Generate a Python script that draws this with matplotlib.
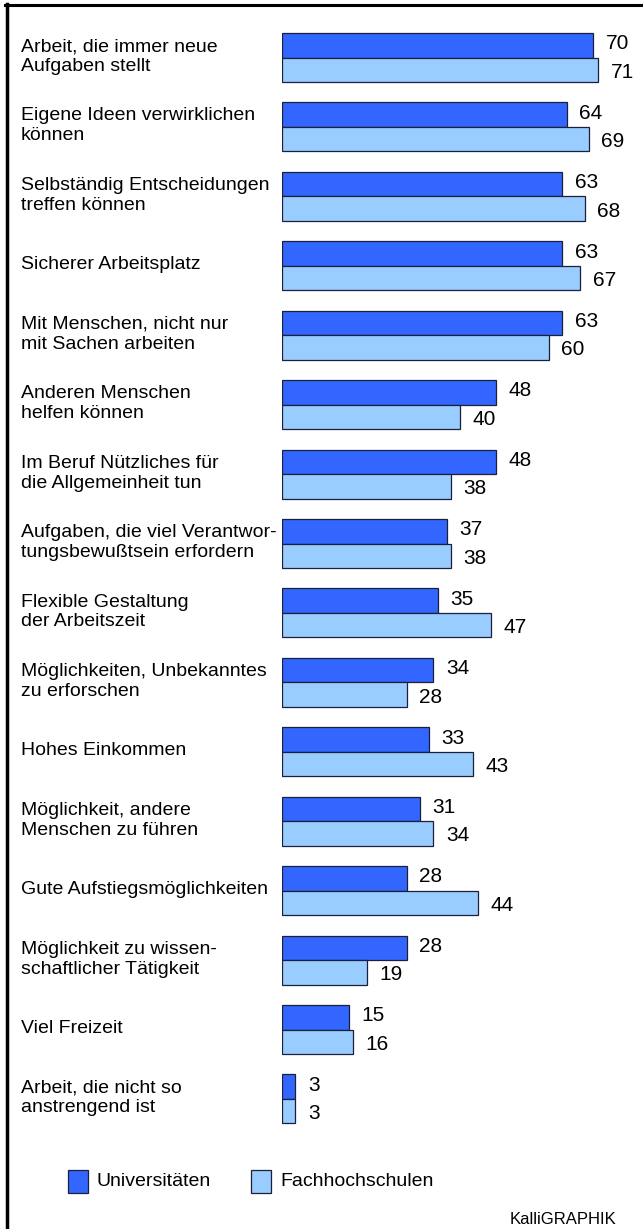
import matplotlib
matplotlib.use("Agg")
import matplotlib.pyplot as plt
from matplotlib.patches import Rectangle
from matplotlib.lines import Line2D
import matplotlib.transforms as mtransforms

plt.rcParams['font.family'] = ['Liberation Sans', 'DejaVu Sans']

categories = [
    "Arbeit, die immer neue\nAufgaben stellt",
    "Eigene Ideen verwirklichen\nkönnen",
    "Selbständig Entscheidungen\ntreffen können",
    "Sicherer Arbeitsplatz",
    "Mit Menschen, nicht nur\nmit Sachen arbeiten",
    "Anderen Menschen\nhelfen können",
    "Im Beruf Nützliches für\ndie Allgemeinheit tun",
    "Aufgaben, die viel Verantwor-\ntungsbewußtsein erfordern",
    "Flexible Gestaltung\nder Arbeitszeit",
    "Möglichkeiten, Unbekanntes\nzu erforschen",
    "Hohes Einkommen",
    "Möglichkeit, andere\nMenschen zu führen",
    "Gute Aufstiegsmöglichkeiten",
    "Möglichkeit zu wissen-\nschaftlicher Tätigkeit",
    "Viel Freizeit",
    "Arbeit, die nicht so\nanstrengend ist",
]
universitaeten = [70, 64, 63, 63, 63, 48, 48, 37, 35, 34, 33, 31, 28, 28, 15, 3]
fachhochschulen = [71, 69, 68, 67, 60, 40, 38, 38, 47, 28, 43, 34, 44, 19, 16, 3]
series_names = ["Universitäten", "Fachhochschulen"]
credit = "KalliGRAPHIK"

col_uni = "#3366FF"
col_fh = "#99CCFF"
edge = "#1a1f3a"

W, H = 643, 1229
fig = plt.figure(figsize=(W / 100, H / 100), dpi=100)

# axes in pixel geometry
ax_left, ax_right = 282, 643
ax_top, ax_bot = 20, 1140
ax = fig.add_axes([ax_left / W, 1 - ax_bot / H, (ax_right - ax_left) / W, (ax_bot - ax_top) / H])
px_per_unit = (589 - 282) / 69.0
ax.set_xlim(0, (ax_right - ax_left) / px_per_unit)
spacing = 69.43
y0 = 57.5
ax.set_ylim((ax_bot - y0) / spacing, (ax_top - y0) / spacing)
ax.axis('off')

bh = 24.5 / spacing
n = len(categories)
ys = list(range(n))
ax.barh([y - bh / 2 for y in ys], universitaeten, height=bh, color=col_uni,
        edgecolor=edge, linewidth=0.9)
ax.barh([y + bh / 2 for y in ys], fachhochschulen, height=bh, color=col_fh,
        edgecolor=edge, linewidth=0.9)

fs_val = 15
fs_lab = 14
gap = 12.5 / px_per_unit
dy_u = -1.5 / spacing
dy_f = 2.5 / spacing
for y, u, f in zip(ys, universitaeten, fachhochschulen):
    ax.text(u + gap, y - bh / 2 + dy_u, str(u), va='center', ha='left', fontsize=fs_val, color='black')
    ax.text(f + gap, y + bh / 2 + dy_f, str(f), va='center', ha='left', fontsize=fs_val, color='black')

trans = mtransforms.blended_transform_factory(fig.transFigure, ax.transData)
for y, c in zip(ys, categories):
    ax.text(21 / W, y - 1.0 / spacing, c, transform=trans, va='center', ha='left', fontsize=fs_lab,
            linespacing=1.22, color='black')

# frame lines
fig.add_artist(Line2D([6.5 / W, 6.5 / W], [0, 1 - 4 / H], color='black', linewidth=2.5,
                      transform=fig.transFigure))
fig.add_artist(Line2D([5 / W, 1], [1 - 5 / H, 1 - 5 / H], color='black', linewidth=2.2,
                      transform=fig.transFigure))

# legend
def fx(px):
    return px / W

def fy(py):
    return 1 - py / H

leg_y = 1181
sqw, sqh = 20, 23
for x0, col, name in [(68, col_uni, series_names[0]), (251, col_fh, series_names[1])]:
    fig.add_artist(Rectangle((fx(x0), fy(leg_y + sqh / 2)), sqw / W, sqh / H, facecolor=col,
                             edgecolor=edge, linewidth=0.9, transform=fig.transFigure))
    fig.text(fx(x0 + sqw + 9), fy(leg_y), name, va='center', ha='left', fontsize=fs_lab)

fig.text(fx(616), fy(1219), credit, va='center', ha='right', fontsize=12)

fig.savefig("out.png", dpi=100)
